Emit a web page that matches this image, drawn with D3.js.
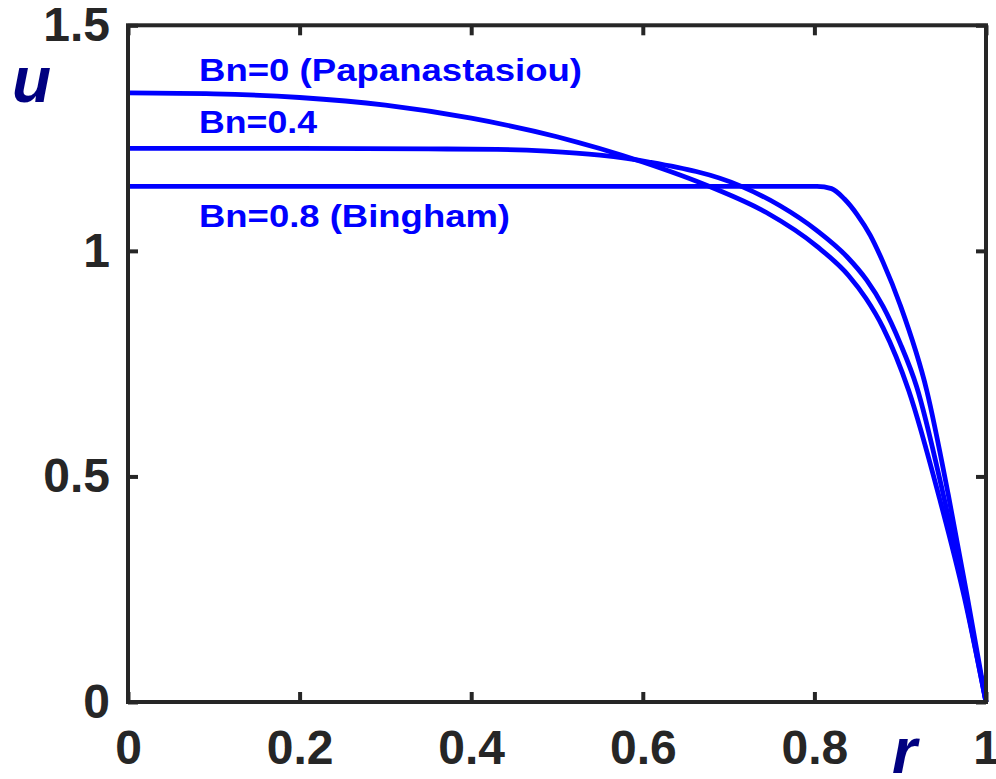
<!DOCTYPE html>
<html>
<head>
<meta charset="utf-8">
<script src="https://cdn.jsdelivr.net/npm/d3@7"></script>
<style>
  html, body { margin: 0; padding: 0; background: #ffffff; }
  svg { display: block; }
</style>
</head>
<body>
<svg id="chart" width="996" height="779"></svg>
<script>
// ---- data ----
const xTicks = [0, 0.2, 0.4, 0.6, 0.8, 1];
const xTickLabels = ["0", "0.2", "0.4", "0.6", "0.8", "1"];
const yTicks = [0, 0.5, 1, 1.5];
const yTickLabels = ["0", "0.5", "1", "1.5"];

const seriesNames = ["Bn=0 (Papanastasiou)", "Bn=0.4", "Bn=0.8 (Bingham)"];

const rBn0 = [0, 0.1, 0.2, 0.3, 0.4, 0.5, 0.6, 0.68, 0.744, 0.803, 0.84, 0.86, 0.88, 0.91, 0.946, 0.975, 1];
const uBn0 = [1.350, 1.348, 1.340, 1.323, 1.294, 1.253, 1.197, 1.141, 1.085, 1.010, 0.945, 0.895, 0.830, 0.690, 0.450, 0.230, 0];

const rBn04 = [0, 0.2, 0.35, 0.43, 0.488, 0.55, 0.607, 0.715, 0.76, 0.803, 0.838, 0.861, 0.88, 0.9, 0.919, 0.949, 0.975, 1];
const uBn04 = [1.227, 1.227, 1.226, 1.225, 1.221, 1.212, 1.197, 1.143, 1.100, 1.045, 0.987, 0.935, 0.877, 0.795, 0.700, 0.470, 0.240, 0];

const rBn08 = [0, 0.803, 0.82, 0.835, 0.85, 0.865, 0.88, 0.9, 0.931, 0.956, 0.978, 1];
const uBn08 = [1.143, 1.143, 1.138, 1.115, 1.080, 1.035, 0.975, 0.880, 0.690, 0.460, 0.235, 0];

// ---- layout ----
const svg = d3.select("#chart");
const mLeft = 128, mRight = 986, mTop = 25.3, mBottom = 702;
const x = d3.scaleLinear().domain([0, 1]).range([mLeft, mRight]);
const y = d3.scaleLinear().domain([0, 1.5]).range([mBottom, mTop]);

const axisColor = "#262626";
const lineColor = "#0000ff";
const labelColor = "#000080";
const font = "'Liberation Sans', Arial, Helvetica, sans-serif";

// curves
const series = [
  { r: rBn0, u: uBn0 },
  { r: rBn04, u: uBn04 },
  { r: rBn08, u: uBn08 }
];
const line = d3.line().x(d => x(d[0])).y(d => y(d[1])).curve(d3.curveMonotoneX);
svg.append("g").selectAll("path")
  .data(series)
  .join("path")
  .attr("d", s => line(s.r.map((rv, i) => [rv, s.u[i]])))
  .attr("fill", "none")
  .attr("stroke", lineColor)
  .attr("stroke-width", 4.8)
  .attr("stroke-linejoin", "round");

// axes (inward ticks, mirrored)
function styleAxis(g) {
  g.select(".domain").remove();
  g.selectAll(".tick line").attr("stroke", axisColor).attr("stroke-width", 4);
  g.selectAll(".tick text")
    .attr("fill", axisColor)
    .attr("font-family", font)
    .attr("font-weight", "bold")
    .attr("font-size", 48);
}

svg.append("g")
  .attr("transform", `translate(0,${mBottom})`)
  .call(d3.axisBottom(x).tickValues(xTicks).tickFormat((d, i) => xTickLabels[i]).tickSize(-10).tickPadding(28))
  .call(styleAxis);

svg.append("g")
  .attr("transform", `translate(0,${mTop})`)
  .call(d3.axisTop(x).tickValues(xTicks).tickFormat("").tickSize(-10))
  .call(styleAxis);

svg.append("g")
  .attr("transform", `translate(${mLeft},0)`)
  .call(d3.axisLeft(y).tickValues(yTicks).tickFormat((d, i) => yTickLabels[i]).tickSize(-10).tickPadding(18))
  .call(styleAxis);

svg.append("g")
  .attr("transform", `translate(${mRight},0)`)
  .call(d3.axisRight(y).tickValues(yTicks).tickFormat("").tickSize(-10))
  .call(styleAxis);

// frame
svg.append("rect")
  .attr("x", mLeft).attr("y", mTop)
  .attr("width", mRight - mLeft).attr("height", mBottom - mTop)
  .attr("fill", "none")
  .attr("stroke", axisColor)
  .attr("stroke-width", 4);

// axis labels
svg.append("text")
  .attr("x", 12).attr("y", 102)
  .attr("font-family", font).attr("font-weight", "bold").attr("font-style", "italic")
  .attr("font-size", 64).attr("fill", labelColor)
  .text("u");

svg.append("text")
  .attr("x", 892).attr("y", 773)
  .attr("font-family", font).attr("font-weight", "bold").attr("font-style", "italic")
  .attr("font-size", 64).attr("fill", labelColor)
  .text("r");

// annotations
const annoX = [199, 199, 199];
const annoY = [81, 133, 227];
const annoW = [383, 118, 311];
svg.append("g").selectAll("text")
  .data(seriesNames)
  .join("text")
  .attr("x", (d, i) => annoX[i])
  .attr("y", (d, i) => annoY[i])
  .attr("font-family", font)
  .attr("font-weight", "bold")
  .attr("font-size", 32)
  .attr("fill", lineColor)
  .attr("textLength", (d, i) => annoW[i])
  .attr("lengthAdjust", "spacingAndGlyphs")
  .text(d => d);
</script>
</body>
</html>
